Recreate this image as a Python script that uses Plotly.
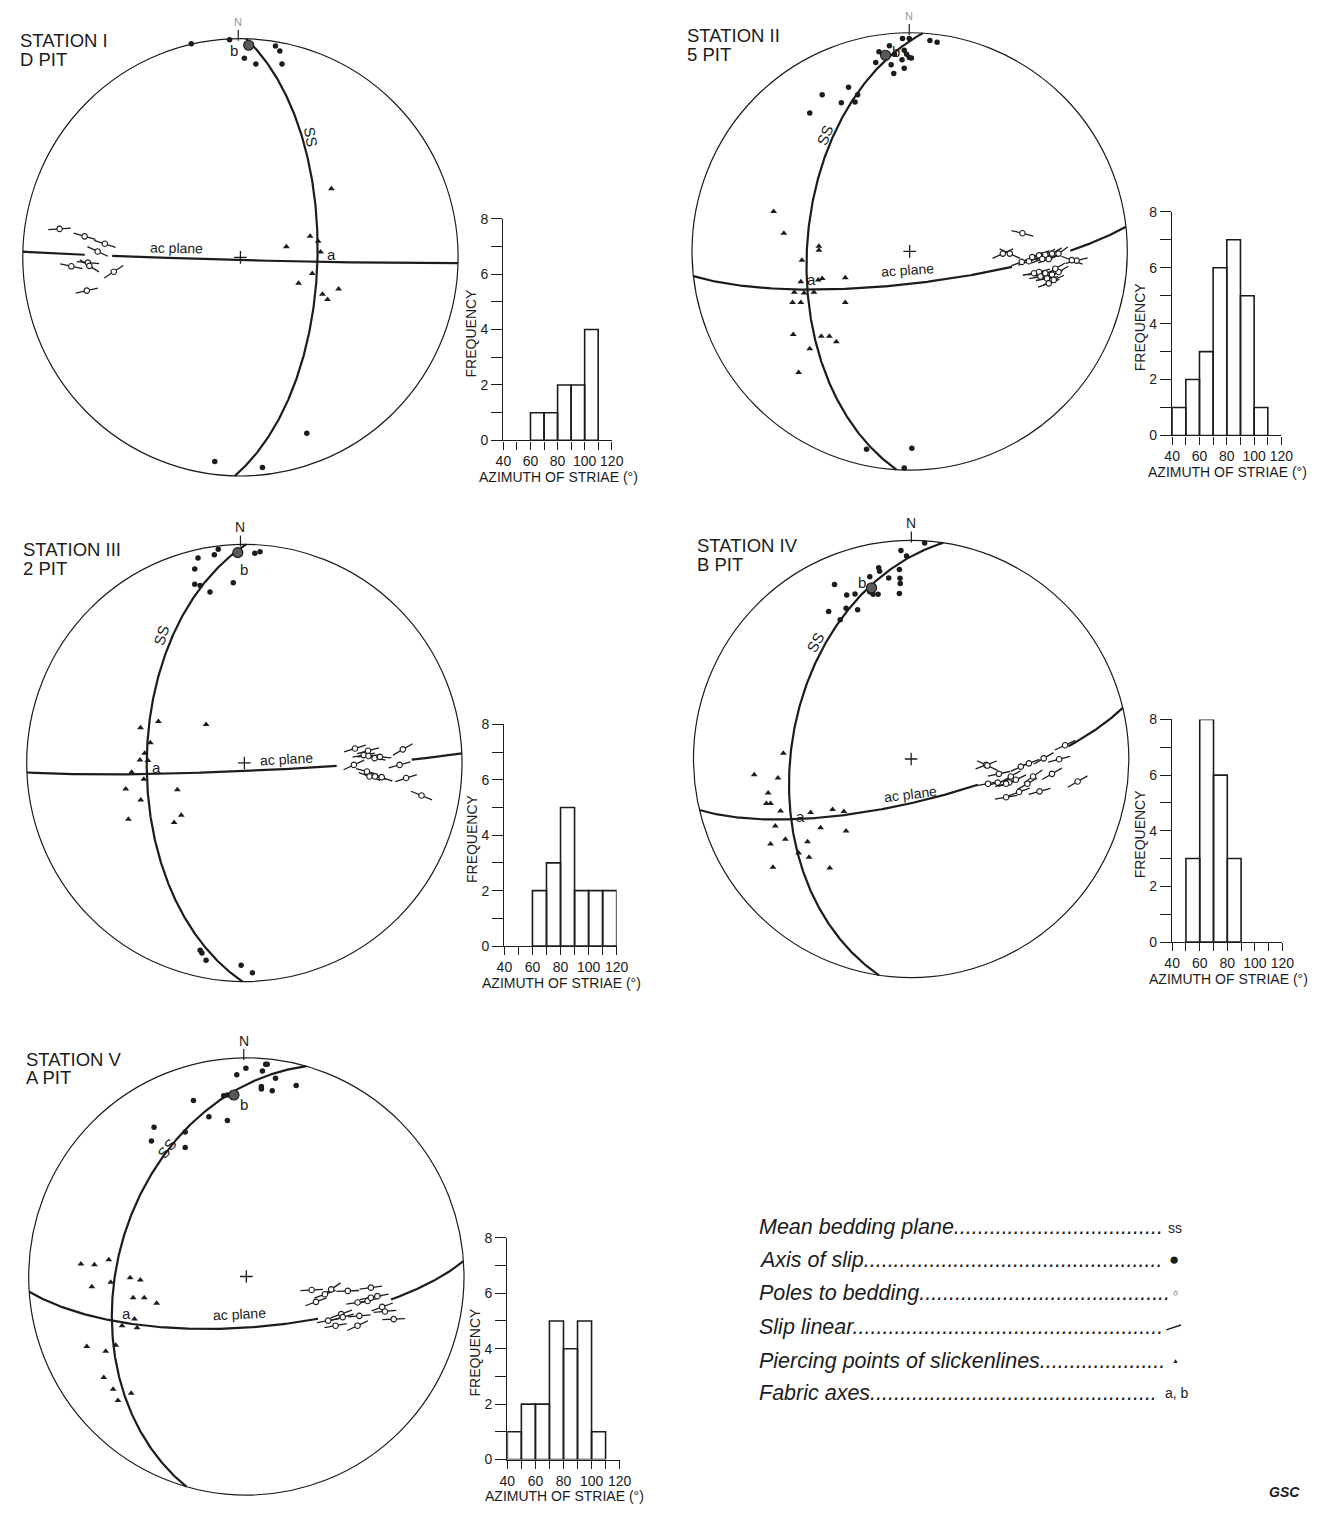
import numpy as np
import plotly.graph_objects as go

W, H = 1324, 1517
R_PX = 221.0
FONT = "Liberation Sans, Arial, sans-serif"
INK = "#1c1c1c"

# ---------------------------------------------------------------------------
# Stereonet data (lower hemisphere, equal area; x = east, y = north, primitive radius = 1)
# ---------------------------------------------------------------------------

# Station I - D pit
st1_slip_axes = [(-0.226, 0.977), (-0.05, 0.995), (0.018, 0.91), (0.071, 0.884), (0.161, 0.967),
                 (0.181, 0.944), (0.191, 0.884), (0.305, -0.805), (-0.118, -0.934), (0.101, -0.961)]
st1_mean_axis = (0.038, 0.97)
st1_piercing = [(0.418, 0.314), (0.32, 0.096), (0.357, 0.074), (0.211, 0.048), (0.368, 0.024),
                (0.33, -0.074), (0.267, -0.119), (0.377, -0.169), (0.4, -0.193), (0.451, -0.145)]
st1_poles = [(-0.831, 0.13, 4), (-0.716, 0.096, -16), (-0.623, 0.062, -18), (-0.656, 0.027, -25),
             (-0.777, -0.041, -12), (-0.701, -0.024, -5), (-0.694, -0.039, -32), (-0.582, -0.066, 33),
             (-0.706, -0.152, 13)]
st1_bedding_plane = (91.5, 61.0)   # dip direction, dip
st1_ac_plane = (181.5, 89.0)

# Station II - 5 pit
st2_slip_axes = [(-0.033, 0.974), (-0.002, 0.974), (0.093, 0.965), (0.126, 0.956), (-0.141, 0.913),
                 (-0.093, 0.94), (-0.07, 0.902), (-0.025, 0.92), (-0.014, 0.902), (-0.002, 0.887),
                 (0.008, 0.884), (-0.035, 0.876), (-0.156, 0.864), (-0.085, 0.854), (-0.025, 0.838),
                 (-0.073, 0.814), (-0.281, 0.751), (-0.402, 0.716), (-0.239, 0.716), (-0.251, 0.683),
                 (-0.314, 0.68), (-0.459, 0.633), (-0.198, -0.905), (0.01, -0.9), (-0.025, -0.991)]
st2_mean_axis = (-0.111, 0.897)
st2_piercing = [(-0.625, 0.182), (-0.578, 0.083), (-0.417, 0.024), (-0.417, 0.005), (-0.495, -0.041),
                (-0.5, -0.139), (-0.42, -0.131), (-0.402, -0.124), (-0.296, -0.12), (-0.53, -0.187),
                (-0.485, -0.19), (-0.44, -0.187), (-0.538, -0.234), (-0.5, -0.234), (-0.296, -0.234),
                (-0.535, -0.38), (-0.406, -0.388), (-0.369, -0.388), (-0.337, -0.413), (-0.459, -0.445),
                (-0.51, -0.554)]
st2_poles = [(0.518, 0.083, -14), (0.428, -0.01, 25), (0.46, -0.01, -25), (0.515, -0.048, 20),
             (0.548, -0.045, 20), (0.563, -0.026, 25), (0.594, -0.018, 25), (0.623, -0.015, 30),
             (0.654, -0.01, 30), (0.684, -0.01, 35), (0.609, -0.035, 20), (0.639, -0.035, 20),
             (0.767, -0.042, 14), (0.745, -0.04, -20), (0.594, -0.094, 15), (0.623, -0.1, 15),
             (0.654, -0.106, 20), (0.601, -0.115, 10), (0.631, -0.124, 10), (0.662, -0.131, 25),
             (0.639, -0.146, 20), (0.684, -0.094, 30), (0.571, -0.1, 10), (0.669, -0.079, 30)]
st2_bedding_plane = (273.5, 51.0)
st2_ac_plane = (173.5, 78.0)

# Station III - 2 pit
st3_slip_axes = [(-0.213, 0.937), (-0.138, 0.952), (-0.12, 0.977), (-0.228, 0.887), (-0.228, 0.817),
                 (-0.203, 0.812), (-0.158, 0.782), (-0.051, 0.824), (0.048, 0.959), (0.072, 0.966),
                 (-0.203, -0.857), (-0.195, -0.869), (-0.176, -0.902), (-0.015, -0.925), (0.037, -0.959)]
st3_mean_axis = (-0.03, 0.962)
st3_piercing = [(-0.477, 0.161), (-0.395, 0.19), (-0.176, 0.176), (-0.432, 0.092), (-0.458, 0.044),
                (-0.48, 0.014), (-0.443, 0.011), (-0.518, -0.043), (-0.462, -0.074), (-0.545, -0.119),
                (-0.308, -0.122), (-0.476, -0.17), (-0.533, -0.257), (-0.29, -0.239), (-0.323, -0.272)]
st3_poles = [(0.508, 0.066, 17), (0.568, 0.056, 15), (0.548, 0.036, 10), (0.57, 0.032, 5),
             (0.598, 0.022, -10), (0.623, 0.028, -5), (0.728, 0.062, 30), (0.713, -0.009, 15),
             (0.503, -0.009, 25), (0.563, -0.039, -15), (0.575, -0.062, -20), (0.6, -0.062, -15),
             (0.631, -0.065, -20), (0.743, -0.069, 18), (0.814, -0.149, -22)]
st3_bedding_plane = (270.5, 53.0)
st3_ac_plane = (177.5, 87.0)

# Station IV - B pit
st4_slip_axes = [(0.062, 0.988), (-0.047, 0.953), (-0.021, 0.928), (-0.149, 0.875), (-0.145, 0.858),
                 (-0.103, 0.828), (-0.054, 0.867), (-0.051, 0.826), (-0.05, 0.802), (-0.054, 0.757),
                 (-0.152, 0.753), (-0.19, 0.833), (-0.19, 0.765), (-0.175, 0.753), (-0.352, 0.798),
                 (-0.296, 0.75), (-0.258, 0.755), (-0.379, 0.674), (-0.299, 0.689), (-0.246, 0.682),
                 (-0.326, 0.637)]
st4_mean_axis = (-0.182, 0.783)
st4_piercing = [(-0.587, 0.026), (-0.721, -0.072), (-0.612, -0.087), (-0.657, -0.155), (-0.665, -0.204),
                (-0.646, -0.204), (-0.6, -0.238), (-0.462, -0.245), (-0.361, -0.231), (-0.309, -0.24),
                (-0.624, -0.306), (-0.416, -0.314), (-0.299, -0.329), (-0.646, -0.389), (-0.578, -0.367),
                (-0.476, -0.379), (-0.517, -0.43), (-0.469, -0.449), (-0.635, -0.495), (-0.374, -0.499)]
st4_poles = [(0.345, -0.027, 20), (0.35, -0.03, -25), (0.403, -0.068, 12), (0.504, -0.035, 25),
             (0.541, -0.02, 20), (0.609, 0.003, 30), (0.707, 0.063, 25), (0.68, -0.001, 15),
             (0.458, -0.08, 30), (0.481, -0.095, 25), (0.451, -0.107, 20), (0.436, -0.113, 15),
             (0.353, -0.113, 10), (0.398, -0.108, 15), (0.534, -0.113, 30), (0.56, -0.08, 35),
             (0.647, -0.068, 30), (0.765, -0.103, 30), (0.59, -0.148, 15), (0.496, -0.151, 20),
             (0.436, -0.175, 10)]
st4_bedding_plane = (278.5, 44.0)
st4_ac_plane = (166.5, 74.0)

# Station V - A pit
st5_slip_axes = [(-0.002, 0.952), (-0.044, 0.922), (0.089, 0.971), (0.096, 0.971), (0.074, 0.94),
                 (0.134, 0.906), (0.069, 0.869), (0.069, 0.857), (0.119, 0.849), (0.229, 0.873),
                 (-0.104, 0.827), (-0.087, 0.83), (-0.243, 0.805), (-0.172, 0.73), (-0.087, 0.713),
                 (-0.424, 0.683), (-0.281, 0.661), (-0.436, 0.62), (-0.281, 0.59)]
st5_mean_axis = (-0.057, 0.83)
st5_piercing = [(-0.76, 0.057), (-0.698, 0.054), (-0.632, 0.077), (-0.71, -0.047), (-0.623, -0.026),
                (-0.534, -0.006), (-0.487, -0.016), (-0.52, -0.097), (-0.469, -0.097), (-0.412, -0.122),
                (-0.514, -0.195), (-0.571, -0.225), (-0.502, -0.235), (-0.733, -0.32), (-0.646, -0.342),
                (-0.6, -0.315), (-0.655, -0.462), (-0.612, -0.516), (-0.529, -0.534), (-0.59, -0.567)]
st5_poles = [(0.3, -0.062, 3), (0.39, -0.059, 35), (0.361, -0.081, 20), (0.32, -0.116, 20),
             (0.466, -0.066, 2), (0.572, -0.051, 8), (0.511, -0.119, 8), (0.557, -0.112, 15),
             (0.572, -0.097, 10), (0.602, -0.09, 10), (0.624, -0.139, 20), (0.637, -0.16, 5),
             (0.677, -0.195, 3), (0.436, -0.172, 20), (0.376, -0.202, 10), (0.519, -0.18, 5),
             (0.41, -0.225, 10), (0.511, -0.225, 25), (0.443, -0.186, 15)]
st5_bedding_plane = (286.0, 40.5)
st5_ac_plane = (176.0, 71.0)

station_titles = ["STATION I", "STATION II", "STATION III", "STATION IV", "STATION V"]
station_pits = ["D PIT", "5 PIT", "2 PIT", "B PIT", "A PIT"]

# ---------------------------------------------------------------------------
# Histograms of striae azimuth (10 degree bins)
# ---------------------------------------------------------------------------
bin_starts = [40, 50, 60, 70, 80, 90, 100, 110]
freq_st1 = [0, 0, 1, 1, 2, 2, 4, 0]
freq_st2 = [1, 2, 3, 6, 7, 5, 1, 0]
freq_st3 = [0, 0, 2, 3, 5, 2, 2, 2]
freq_st4 = [0, 3, 8, 6, 3, 0, 0, 0]
freq_st5 = [1, 2, 2, 5, 4, 5, 1, 0]
x_tick_values = [40, 50, 60, 70, 80, 90, 100, 110, 120]
x_tick_labels = ["40", "", "60", "", "80", "", "100", "", "120"]
y_tick_values = [0, 1, 2, 3, 4, 5, 6, 7, 8]
y_tick_labels = ["0", "", "2", "", "4", "", "6", "", "8"]

legend_labels = ["Mean bedding plane", "Axis of slip", "Poles to bedding", "Slip linear",
                 "Piercing points of slickenlines", "Fabric axes"]

# ---------------------------------------------------------------------------
# Page layout (pixels)
# ---------------------------------------------------------------------------
net_centres = [(236, 252), (915.5, 246), (240, 763), (917, 759), (242, 1282)]
hist_boxes = [  # x(40), x(120), y(0), y(8)
    (503, 613, 437, 213),
    (1182, 1293, 432, 206),
    (504, 618, 948, 724),
    (1182, 1294, 944, 719),
    (507, 621, 1467, 1243),
]
title_pos = [(10, 33, 52), (687, 28, 47), (13, 547, 566), (698, 543, 562), (16, 1063, 1081)]
# label placements in net coordinates
label_b = [(-0.03, 0.945), (-0.062, 0.913), (-0.003, 0.885), (-0.225, 0.805), (-0.012, 0.786)]
label_a = [(0.418, 0.014), (-0.45, -0.128), (-0.405, -0.022), (-0.507, -0.262), (-0.552, -0.17)]
label_ac = [(-0.296, 0.042, 1), (-0.01, -0.083, -4), (0.195, 0.02, -3), (-0.001, -0.16, -7),
            (-0.032, -0.172, -3)]
label_ss = [(0.323, 0.552, 80), (-0.387, 0.533, -68), (-0.383, 0.584, -72), (-0.439, 0.531, -62),
            (-0.365, 0.585, -52)]
north_x = [-0.01, -0.002, -0.018, 0.001, -0.012]
north_faint = [True, True, False, False, False]
ac_gaps = [(-0.715, -0.593), (0.473, 0.737), (0.428, 0.766), (0.31, 0.72), (0.33, 0.661)]

HALF = 272  # half size of each net's plotting window in pixels
SLIP_HALF = 0.052


def great_circle(dip_dir, dip, n=500):
    """Lower-hemisphere equal-area trace of a plane given by dip direction and dip."""
    a, d = np.radians(dip_dir), np.radians(dip)
    t = np.linspace(0.0, np.pi, n)
    strike_v = np.array([-np.cos(a), np.sin(a), 0.0])
    dip_v = np.array([np.cos(d) * np.sin(a), np.cos(d) * np.cos(a), -np.sin(d)])
    p = np.outer(np.cos(t), strike_v) + np.outer(np.sin(t), dip_v)
    k = 1.0 / np.sqrt(1.0 - p[:, 2])
    return p[:, 0] * k, p[:, 1] * k


def refs(i):
    return ("x", "y") if i == 1 else (f"x{i}", f"y{i}")


def px_x(v):
    return v / W


def px_y(v):
    return 1 - v / H


stations = [
    (st1_slip_axes, st1_mean_axis, st1_piercing, st1_poles, st1_bedding_plane, st1_ac_plane),
    (st2_slip_axes, st2_mean_axis, st2_piercing, st2_poles, st2_bedding_plane, st2_ac_plane),
    (st3_slip_axes, st3_mean_axis, st3_piercing, st3_poles, st3_bedding_plane, st3_ac_plane),
    (st4_slip_axes, st4_mean_axis, st4_piercing, st4_poles, st4_bedding_plane, st4_ac_plane),
    (st5_slip_axes, st5_mean_axis, st5_piercing, st5_poles, st5_bedding_plane, st5_ac_plane),
]
histograms = [freq_st1, freq_st2, freq_st3, freq_st4, freq_st5]

fig = go.Figure()
layout = dict(width=W, height=H, autosize=False, margin=dict(l=0, r=0, t=0, b=0),
              paper_bgcolor="white", plot_bgcolor="rgba(0,0,0,0)", showlegend=False)
annotations, shapes = [], []


def ann(text, x, y, xref="paper", yref="paper", size=14, angle=0, xanchor="center",
        yanchor="middle", color=INK, style="normal", weight="normal"):
    annotations.append(dict(text=text, x=x, y=y, xref=xref, yref=yref, showarrow=False,
                            textangle=angle, xanchor=xanchor, yanchor=yanchor,
                            font=dict(family=FONT, size=size, color=color, style=style,
                                      weight=weight)))


# ---------------- stereonets ----------------
for i, (axes_pts, mean_ax, pierce, poles, ss_plane, ac_plane) in enumerate(stations, start=1):
    cx, cy = net_centres[i - 1]
    x0, x1 = max(0, cx - HALF), min(W, cx + HALF)
    y0, y1 = max(0, cy - HALF), min(H, cy + HALF)
    xr, yr = refs(i)
    sfx = '' if i == 1 else i
    layout[f"xaxis{sfx}"] = dict(domain=[x0 / W, x1 / W], range=[(x0 - cx) / R_PX, (x1 - cx) / R_PX],
                                 visible=False, anchor=yr, fixedrange=True)
    layout[f"yaxis{sfx}"] = dict(domain=[1 - y1 / H, 1 - y0 / H], range=[(cy - y1) / R_PX, (cy - y0) / R_PX],
                                 visible=False, anchor=xr, fixedrange=True)

    shapes.append(dict(type="circle", xref=xr, yref=yr, x0=-1, y0=-1, x1=1, y1=1,
                       line=dict(color=INK, width=1.2), layer="below"))

    # mean bedding plane (SS) and ac plane
    gx, gy = great_circle(*ss_plane)
    fig.add_trace(go.Scatter(x=gx, y=gy, mode="lines", line=dict(color=INK, width=2.2),
                             xaxis=xr, yaxis=yr, hoverinfo="skip"))
    ax_, ay_ = great_circle(*ac_plane)
    g0, g1 = ac_gaps[i - 1]
    mask = (ax_ > g0) & (ax_ < g1)
    ax_ = np.where(mask, np.nan, ax_)
    ay_ = np.where(mask, np.nan, ay_)
    fig.add_trace(go.Scatter(x=ax_, y=ay_, mode="lines", line=dict(color=INK, width=2.2),
                             xaxis=xr, yaxis=yr, hoverinfo="skip", connectgaps=False))

    # slip linears through poles to bedding
    lx, ly = [], []
    for px_, py_, ang in poles:
        dx, dy = SLIP_HALF * np.cos(np.radians(ang)), SLIP_HALF * np.sin(np.radians(ang))
        lx += [px_ - dx, px_ + dx, None]
        ly += [py_ - dy, py_ + dy, None]
    fig.add_trace(go.Scatter(x=lx, y=ly, mode="lines", line=dict(color=INK, width=1.3),
                             xaxis=xr, yaxis=yr, hoverinfo="skip"))
    fig.add_trace(go.Scatter(x=[p[0] for p in poles], y=[p[1] for p in poles], mode="markers",
                             marker=dict(symbol="circle", size=5.5, color="white",
                                         line=dict(color=INK, width=1.1)),
                             xaxis=xr, yaxis=yr, hoverinfo="skip"))

    # axes of slip, piercing points, mean slip axis
    fig.add_trace(go.Scatter(x=[p[0] for p in axes_pts], y=[p[1] for p in axes_pts], mode="markers",
                             marker=dict(symbol="circle", size=5.5, color=INK),
                             xaxis=xr, yaxis=yr, hoverinfo="skip"))
    fig.add_trace(go.Scatter(x=[p[0] for p in pierce], y=[p[1] for p in pierce], mode="markers",
                             marker=dict(symbol="triangle-up", size=6, color=INK),
                             xaxis=xr, yaxis=yr, hoverinfo="skip"))
    fig.add_trace(go.Scatter(x=[mean_ax[0]], y=[mean_ax[1]], mode="markers",
                             marker=dict(symbol="circle", size=10, color="#5a5a5a",
                                         line=dict(color=INK, width=1.2)),
                             xaxis=xr, yaxis=yr, hoverinfo="skip"))
    # centre cross and north tick
    fig.add_trace(go.Scatter(x=[0], y=[0], mode="markers",
                             marker=dict(symbol="cross-thin", size=9, line=dict(color=INK, width=1.3)),
                             xaxis=xr, yaxis=yr, hoverinfo="skip"))
    nx = north_x[i - 1]
    fig.add_trace(go.Scatter(x=[nx, nx], y=[0.99, 1.04], mode="lines", line=dict(color=INK, width=1.2),
                             xaxis=xr, yaxis=yr, hoverinfo="skip"))
    ann("N", nx, 1.077, xr, yr, size=14 if not north_faint[i - 1] else 11,
        color=INK if not north_faint[i - 1] else "#9a9a9a")

    # labels
    ann("b", *label_b[i - 1], xr, yr, size=15)
    ann("a", *label_a[i - 1], xr, yr, size=15)
    acx, acy, aca = label_ac[i - 1]
    ann("ac plane", acx, acy, xr, yr, size=14, angle=aca)
    ssx, ssy, ssa = label_ss[i - 1]
    ann("SS", ssx, ssy, xr, yr, size=15, angle=ssa)

    # station title
    tx, ty1, ty2 = title_pos[i - 1]
    ann(station_titles[i - 1], px_x(tx), px_y(ty1), size=18.5, xanchor="left")
    ann(station_pits[i - 1], px_x(tx), px_y(ty2), size=18.5, xanchor="left")

# ---------------- histograms ----------------
for j, freq in enumerate(histograms):
    k = j + 6
    xa, xb, yb, ya = hist_boxes[j]
    xr, yr = refs(k)
    common = dict(showline=True, linecolor=INK, linewidth=1.4, ticks="outside", tickcolor=INK,
                  tickwidth=1.3, showgrid=False, zeroline=False, fixedrange=True,
                  tickfont=dict(family=FONT, size=14, color=INK))
    layout[f"xaxis{k}"] = dict(domain=[px_x(xa), px_x(xb)], range=[40, 120], anchor=yr,
                               tickmode="array", tickvals=x_tick_values, ticktext=x_tick_labels,
                               ticklen=8, **common)
    layout[f"yaxis{k}"] = dict(domain=[px_y(yb), px_y(ya)], range=[0, 8], anchor=xr,
                               tickmode="array", tickvals=y_tick_values, ticktext=y_tick_labels,
                               ticklen=11, **common)
    bx = [b + 5 for b, f in zip(bin_starts, freq) if f > 0]
    by = [f for f in freq if f > 0]
    fig.add_trace(go.Bar(x=bx, y=by, width=10, xaxis=xr, yaxis=yr, cliponaxis=False,
                         marker=dict(color="rgba(0,0,0,0)", line=dict(color=INK, width=1.6)),
                         hoverinfo="skip"))
    ann("FREQUENCY", px_x(xa - 33), px_y((yb + ya) / 2 + 3), size=14, angle=-90)
    ann("AZIMUTH OF STRIAE (°)", px_x((xa + xb) / 2 + 1), px_y(yb + 37), size=14)

# ---------------- legend of symbols ----------------
legend_y = [1232, 1265, 1299, 1333, 1367, 1400]
dot_counts = [35, 50, 42, 52, 21, 48]
for lab, yy, nd in zip(legend_labels, legend_y, dot_counts):
    ann(lab + "." * nd, px_x(760), px_y(yy), size=21.5, xanchor="left", style="italic")
ann("ss", px_x(1185), px_y(1233), size=14)
ann("●", px_x(1184), px_y(1265), size=17)
ann("○", px_x(1185), px_y(1299), size=9)
shapes.append(dict(type="line", xref="paper", yref="paper", x0=px_x(1176), y0=px_y(1336),
                   x1=px_x(1191), y1=px_y(1331), line=dict(color=INK, width=1.5)))
ann("▲", px_x(1185), px_y(1367), size=7)
ann("a, b", px_x(1187), px_y(1400), size=14)
ann("GSC", px_x(1296), px_y(1500), size=14, style="italic", weight="bold")

layout["annotations"] = annotations
layout["shapes"] = shapes
fig.update_layout(**layout)
fig.write_html("out.html")
